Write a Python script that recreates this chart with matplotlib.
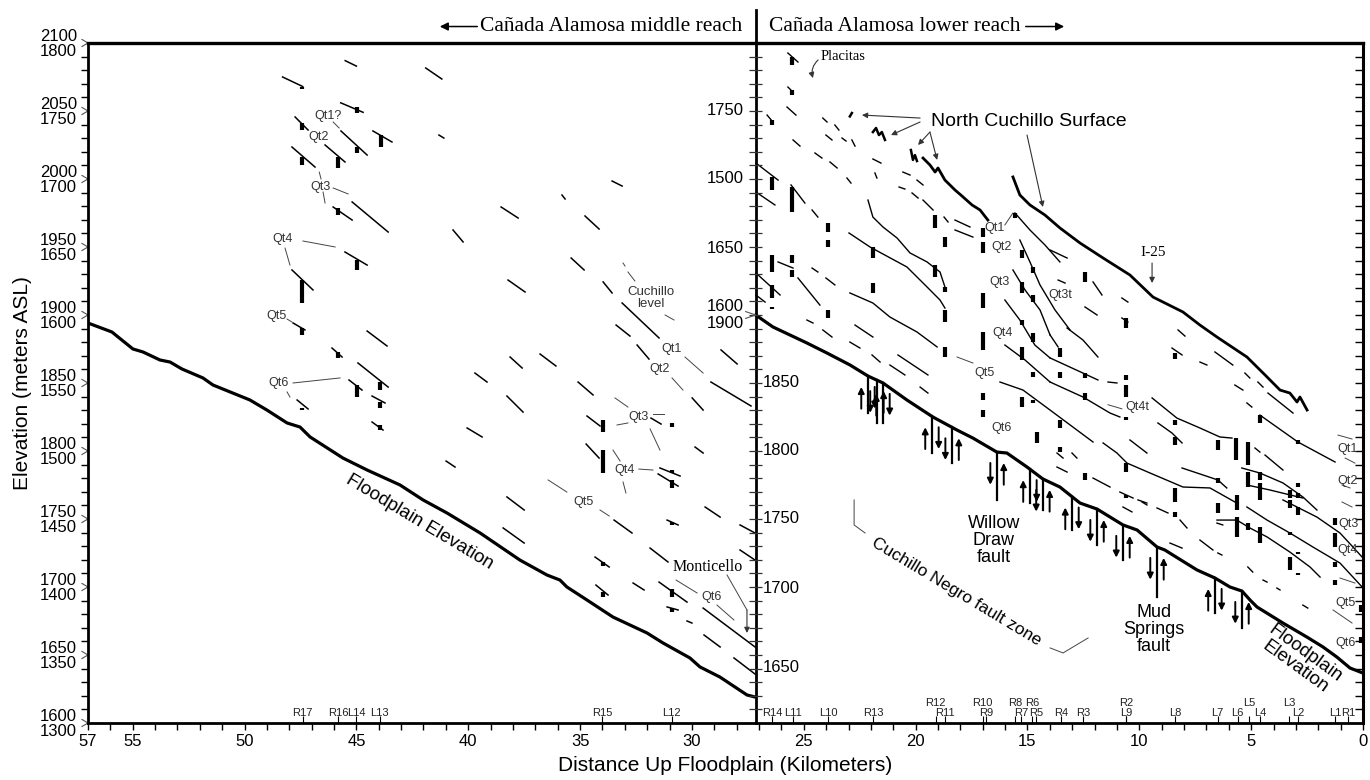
import numpy as np
import matplotlib.pyplot as plt
from matplotlib.transforms import blended_transform_factory

plt.rcParams['font.family'] = ['Liberation Sans', 'DejaVu Sans']
SERIF = ['Liberation Serif', 'DejaVu Serif']

DIVIDE_KM = 27.15

# floodplain profiles (km up floodplain, elevation on the plotted scale)
mid_floodplain_km = [57.0, 55.93, 54.99, 54.54, 53.78, 53.33, 52.80, 51.86, 51.41, 49.76, 49.0,
                     48.10, 47.52, 47.07, 45.60, 44.52, 43.05, 42.02, 40.95, 39.47, 37.69, 36.48,
                     35.90, 35.59, 34.69, 33.53, 32.01, 31.29, 30.09, 29.64, 28.75, 27.54, 27.18]
mid_floodplain_elev = [1894.1, 1887.5, 1875.0, 1872.8, 1866.9, 1865.4, 1860.3, 1853.7, 1848.5,
                       1837.5, 1830.1, 1820.6, 1817.6, 1810.3, 1794.8, 1786.0, 1775.0, 1764.0,
                       1754.4, 1739.7, 1719.8, 1708.8, 1705.1, 1700.0, 1690.4, 1677.9, 1666.2,
                       1658.8, 1647.8, 1641.2, 1633.8, 1620.6, 1619.1]

low_floodplain_km = [27.15, 26.38, 25.62, 24.86, 23.96, 22.93, 22.13, 21.46, 20.39, 19.23, 18.15,
                     17.44, 16.37, 15.92, 15.02, 14.31, 13.55, 12.65, 11.89, 10.73, 10.10, 9.21,
                     8.86, 8.50, 7.42, 6.62, 5.95, 5.41, 5.05, 4.74, 3.58, 2.51, 1.79, 1.17, 0.58, 0.0]
low_floodplain_elev = [1900.0, 1891.2, 1885.3, 1879.4, 1872.0, 1863.2, 1855.1, 1850.0, 1837.5,
                       1825.0, 1815.4, 1809.5, 1799.2, 1798.5, 1788.2, 1779.4, 1773.5, 1761.7,
                       1757.3, 1745.6, 1741.9, 1729.4, 1727.2, 1723.5, 1712.5, 1706.6, 1700.0,
                       1697.0, 1690.4, 1685.3, 1673.5, 1663.2, 1655.9, 1648.5, 1640.4, 1636.7]

# North Cuchillo surface and I-25 profiles
cuchillo_km = [19.67, 19.36, 19.13, 19.00, 18.69, 18.24, 17.93, 17.48, 17.12, 16.77]
cuchillo_elev = [2015.4, 2010.3, 2005.1, 2008.1, 1999.2, 1991.9, 1987.5, 1980.9, 1977.2, 1969.8]
cuchillo_bits = [
    [(22.85, 2048.5), (22.94, 2046.0)],
    [(21.91, 2034.5), (21.77, 2037.5), (21.64, 2032.3), (21.51, 2034.5), (21.37, 2028.7)],
    [(20.21, 2021.3), (20.12, 2014.0), (20.03, 2017.6), (19.94, 2013.2)],
]
i25_km = [15.65, 15.34, 14.89, 14.22, 13.55, 12.65, 11.62, 10.42, 9.39, 8.05, 7.29, 6.53,
          5.19, 4.38, 3.71, 3.27, 2.95, 2.82, 2.50]
i25_elev = [2001.5, 1988.2, 1980.9, 1973.5, 1964.0, 1952.9, 1941.9, 1929.4, 1913.2, 1902.2,
            1892.6, 1883.8, 1869.1, 1855.9, 1844.8, 1842.6, 1836.0, 1839.7, 1830.1]

# terrace tread segments, middle reach
mid_terraces = [
    [(48.3, 2075), (47.4, 2068)], [(45.5, 2087), (45.0, 2083)], [(45.7, 2056), (44.7, 2049)],
    [(47.74, 2045.6), (47.16, 2036.0)], [(45.69, 2035.3), (44.52, 2017.6)],
    [(44.26, 2035.3), (43.41, 2027.2)], [(46.40, 2025.0), (45.51, 2012.5)],
    [(47.88, 2023.5), (46.85, 2008.8)], [(46.04, 1979.4), (45.19, 1969.8)],
    [(45.19, 1983.1), (43.58, 1961.0)], [(45.51, 1946.3), (44.52, 1936.7)],
    [(47.88, 1933.1), (46.94, 1918.4)], [(47.83, 1894.1), (47.30, 1889.0)],
    [(44.52, 1888.2), (43.63, 1877.2)], [(46.09, 1875.7), (45.64, 1869.1)],
    [(44.93, 1864.7), (43.58, 1847.0)], [(45.33, 1852.2), (44.75, 1844.8)],
    [(44.30, 1840.4), (43.72, 1835.3)], [(47.65, 1837.5), (47.16, 1830.9)],
    [(44.30, 1821.3), (43.81, 1815.4)], [(41.90, 2081.6), (41.18, 2073.5)],
    [(41.31, 2032.3), (41.09, 2030.1)], [(33.57, 1998.5), (33.12, 1994.8)],
    [(35.81, 1988.2), (35.67, 1985.3)], [(38.53, 1979.4), (37.77, 1971.3)],
    [(34.78, 1972.8), (34.15, 1963.2)], [(40.68, 1962.5), (40.23, 1953.7)],
    [(35.40, 1941.9), (34.82, 1933.1)], [(38.22, 1925.7), (37.46, 1916.9)],
    [(33.97, 1924.3), (33.57, 1916.2)], [(33.12, 1908.8), (31.47, 1883.1)],
    [(33.39, 1892.6), (32.77, 1884.5)], [(38.13, 1869.1), (37.59, 1861.0)],
    [(36.79, 1871.3), (36.08, 1862.5)], [(32.45, 1877.9), (31.92, 1867.6)],
    [(28.70, 1874.3), (27.98, 1864.0)], [(29.15, 1850.7), (27.36, 1833.1)],
    [(39.70, 1857.3), (39.16, 1850.7)], [(35.09, 1850.7), (34.42, 1841.2)],
    [(38.27, 1840.4), (37.55, 1828.6)], [(29.99, 1839.0), (29.50, 1830.1)],
    [(34.69, 1825.7), (34.11, 1818.4)], [(31.83, 1824.2), (31.38, 1819.8)],
    [(40.05, 1816.9), (39.38, 1810.3)], [(29.86, 1802.9), (29.50, 1798.5)],
    [(34.73, 1805.1), (34.15, 1794.8)], [(31.43, 1787.5), (30.53, 1781.6)],
    [(31.51, 1783.1), (30.62, 1774.2)], [(40.99, 1792.6), (40.59, 1788.2)],
    [(38.27, 1766.2), (37.50, 1756.6)], [(33.48, 1749.2), (32.68, 1739.7)],
    [(29.41, 1758.8), (28.74, 1751.4)], [(31.11, 1749.2), (30.62, 1745.6)],
    [(27.85, 1745.6), (27.18, 1739.7)], [(38.44, 1743.4), (37.50, 1732.3)],
    [(31.87, 1728.6), (31.07, 1718.4)], [(27.85, 1727.2), (27.18, 1719.8)],
    [(34.33, 1722.0), (33.70, 1714.7)], [(32.63, 1702.9), (32.14, 1697.8)],
    [(31.47, 1703.6), (30.22, 1688.9)], [(34.29, 1701.4), (33.75, 1694.1)],
    [(31.11, 1685.3), (30.62, 1683.1)], [(30.22, 1675.0), (30.00, 1673.5)],
    [(29.50, 1684.5), (27.18, 1655.9)], [(29.46, 1664.7), (28.74, 1655.9)],
    [(28.12, 1647.8), (27.18, 1636.0)],
]

# terrace tread segments and profiles, lower reach
low_terraces = [
    [(27.14, 2011.7), (26.15, 1999.2)], [(27.14, 1990.4), (26.29, 1980.9)],
    [(25.57, 1995.6), (24.95, 1982.3)], [(25.71, 2092.6), (25.26, 2086.0)],
    [(25.71, 2067.6), (25.48, 2063.9)], [(25.75, 2052.9), (25.35, 2047.0)],
    [(26.64, 2047.0), (26.38, 2041.9)],
    [(24.15, 2044.8), (23.96, 2041.9)], [(23.61, 2039.7), (23.43, 2036.0)],
    [(25.48, 2028.7), (25.17, 2024.2)], [(24.01, 2032.3), (23.74, 2028.7)],
    [(23.29, 2030.1), (23.11, 2027.9)], [(22.85, 2028.7), (22.71, 2024.2)],
    [(24.50, 2019.1), (24.19, 2015.4)], [(23.83, 2012.5), (23.51, 2008.1)],
    [(21.91, 2014.7), (21.55, 2011.7)], [(20.57, 2005.1), (20.25, 2002.9)],
    [(19.94, 1999.2), (19.67, 1995.6)], [(21.82, 2004.4), (21.73, 2000.7)],
    [(23.07, 2000.7), (22.89, 1997.0)], [(20.74, 1994.1), (20.48, 1992.6)],
    [(20.16, 1989.7), (19.89, 1986.0)], [(19.67, 1984.5), (19.22, 1977.2)],
    [(24.63, 1977.2), (24.37, 1972.0)], [(18.73, 1972.0), (18.55, 1968.4)],
    [(18.24, 1969.8), (17.57, 1964.7)], [(18.24, 1962.5), (17.44, 1957.3)],
    [(24.63, 1934.5), (24.37, 1931.6)], [(24.01, 1927.2), (23.61, 1922.1)],
    [(24.86, 1896.3), (24.59, 1894.1)], [(24.15, 1889.0), (23.74, 1883.8)],
    [(22.13, 1984.5), (21.91, 1972.0), (21.46, 1964.7), (20.83, 1956.6), (20.25, 1945.6),
     (19.49, 1939.0), (18.91, 1931.6), (18.69, 1920.6)],
    [(22.98, 1960.3), (22.04, 1950.0), (20.39, 1935.3), (19.49, 1920.6), (18.91, 1911.0),
     (18.69, 1905.1)],
    [(22.94, 1916.2), (21.91, 1908.8), (21.15, 1898.5), (19.94, 1887.5), (19.04, 1876.5)],
    [(25.26, 1927.2), (24.28, 1907.3)], [(27.14, 1930.9), (26.06, 1914.7)],
    [(27.14, 1914.7), (26.73, 1909.5)], [(26.15, 1939.0), (25.48, 1934.5)],
    [(22.71, 1892.6), (21.91, 1883.8)], [(22.94, 1880.1), (22.49, 1875.7)],
    [(21.95, 1870.6), (21.59, 1865.4)], [(21.15, 1863.2), (20.48, 1855.9)],
    [(20.79, 1870.6), (19.45, 1855.9)], [(19.80, 1847.0), (19.45, 1842.6)],
    [(15.56, 1975.0), (14.89, 1962.5), (14.22, 1951.5), (13.55, 1939.0)],
    [(15.34, 1955.1), (14.89, 1939.0), (14.44, 1922.1), (13.77, 1903.7), (13.10, 1889.0)],
    [(15.65, 1933.1), (15.11, 1918.4), (14.44, 1903.7), (13.99, 1885.3)],
    [(16.01, 1911.0), (15.34, 1896.3), (14.67, 1877.9), (13.99, 1868.4)],
    [(16.01, 1877.9), (15.11, 1866.9), (13.99, 1850.7)],
    [(16.23, 1850.7), (15.20, 1844.8), (13.99, 1830.1), (12.07, 1806.6)],
    [(13.99, 1947.8), (13.23, 1941.9)], [(13.63, 1925.7), (13.32, 1923.5)],
    [(12.07, 1924.3), (11.67, 1914.7)], [(10.78, 1912.5), (10.51, 1909.5)],
    [(12.43, 1905.9), (11.89, 1900.0)], [(10.78, 1897.8), (10.51, 1894.8)],
    [(8.27, 1889.0), (7.96, 1884.5)], [(8.54, 1875.7), (8.09, 1870.6)],
    [(7.29, 1865.4), (6.98, 1863.2)], [(6.62, 1872.8), (5.82, 1863.2)],
    [(5.28, 1857.3), (5.06, 1853.7)], [(4.70, 1850.7), (4.47, 1847.0)],
    [(5.73, 1848.5), (5.37, 1844.8)], [(5.19, 1835.3), (4.97, 1832.3)],
    [(4.25, 1842.6), (3.13, 1827.9)],
    [(13.23, 1890.4), (12.52, 1881.6), (11.85, 1869.1)],
    [(13.99, 1885.3), (13.63, 1876.5)],
    [(13.99, 1868.4), (12.52, 1857.3), (11.85, 1852.2)], [(11.40, 1850.7), (11.00, 1850.0)],
    [(13.99, 1850.7), (12.52, 1839.7), (11.31, 1827.9), (10.87, 1825.0)],
    [(9.43, 1839.0), (8.32, 1824.2), (7.29, 1816.9), (6.40, 1810.3), (5.86, 1809.5)],
    [(9.17, 1820.6), (8.54, 1813.2), (8.09, 1805.9)],
    [(4.61, 1826.4), (2.91, 1806.6), (1.25, 1791.9)],
    [(4.83, 1802.2), (4.61, 1799.2)], [(4.38, 1797.0), (3.58, 1786.0)],
    [(11.62, 1805.9), (11.00, 1798.5), (10.55, 1791.1), (9.52, 1783.8), (8.05, 1773.5),
     (6.84, 1772.8), (5.64, 1761.7)],
    [(8.09, 1787.5), (6.49, 1778.7), (6.09, 1772.8)],
    [(5.42, 1787.5), (4.61, 1783.8), (3.58, 1776.5), (2.69, 1766.2), (2.06, 1756.6)],
    [(5.19, 1775.0), (4.16, 1771.3), (2.69, 1765.4)],
    [(13.68, 1798.5), (13.41, 1794.8)], [(13.01, 1798.5), (12.79, 1794.8)],
    [(13.68, 1788.2), (13.23, 1784.5)], [(12.07, 1780.1), (11.31, 1773.5)],
    [(10.87, 1769.8), (10.28, 1765.4)], [(9.88, 1762.5), (9.66, 1760.3)],
    [(10.42, 1808.1), (9.66, 1798.5)],
    [(6.53, 1749.2), (5.64, 1749.2), (5.06, 1743.4), (4.29, 1736.8), (3.27, 1725.7),
     (2.37, 1714.7), (1.92, 1707.3)],
    [(5.19, 1758.8), (4.29, 1749.2), (3.27, 1739.7), (2.24, 1729.4), (1.03, 1717.6),
     (0.04, 1700.0)],
    [(3.58, 1764.0), (2.06, 1751.4), (1.03, 1739.7), (0.45, 1729.4), (0.04, 1722.0)],
    [(10.73, 1758.8), (10.33, 1755.2)], [(10.06, 1764.0), (9.66, 1761.7)],
    [(9.21, 1758.1), (8.72, 1754.4)], [(8.18, 1749.2), (7.87, 1743.4)],
    [(8.63, 1732.3), (8.09, 1728.6)], [(7.29, 1734.5), (6.71, 1727.2)],
    [(6.49, 1725.0), (6.31, 1723.5)], [(5.15, 1714.7), (4.93, 1711.0)],
    [(4.47, 1705.1), (4.29, 1703.6)], [(3.85, 1699.2), (3.71, 1697.8)],
    [(2.69, 1686.7), (2.47, 1684.5)], [(6.53, 1747.0), (6.27, 1745.6)],
]

# deposit thickness bars: (km, top elevation, base elevation)
mid_bars = [
    (47.43, 2067.6, 2066.0), (44.97, 2052.9, 2048.5), (47.43, 2041.2, 2036.0),
    (44.97, 2023.5, 2019.1), (43.90, 2032.3, 2023.5), (45.82, 2016.2, 2008.1),
    (47.43, 2016.2, 2010.3), (45.82, 1978.7, 1973.5), (44.97, 1940.4, 1933.1),
    (47.43, 1925.7, 1908.8), (47.43, 1890.4, 1885.3), (45.82, 1872.8, 1868.4),
    (43.94, 1850.7, 1844.8), (44.97, 1848.5, 1839.7), (43.94, 1836.0, 1831.6),
    (47.43, 1831.6, 1830.0), (43.94, 1819.1, 1815.4), (33.97, 1822.8, 1814.0),
    (30.89, 1820.6, 1817.6), (33.97, 1800.7, 1783.8), (30.89, 1786.0, 1783.8),
    (30.89, 1778.7, 1772.8), (30.89, 1747.8, 1745.6), (33.97, 1718.4, 1715.4),
    (30.89, 1698.5, 1692.6), (33.97, 1696.3, 1692.6), (30.89, 1684.5, 1681.6),
]
low_bars = [
    (25.53, 2089.7, 2083.8), (25.53, 2065.4, 2061.7), (26.42, 2043.4, 2039.7),
    (26.42, 2001.5, 1991.9), (25.53, 1994.1, 1975.7), (19.13, 1973.5, 1964.0),
    (18.69, 1957.3, 1950.0), (16.99, 1964.0, 1957.3), (16.99, 1953.7, 1945.6),
    (15.56, 1975.0, 1971.3), (23.92, 1967.6, 1961.0), (23.92, 1955.1, 1950.0),
    (21.91, 1950.0, 1941.9), (26.42, 1944.1, 1931.6), (25.53, 1944.1, 1938.2),
    (25.53, 1933.1, 1927.9), (26.42, 1922.1, 1912.5), (26.42, 1905.9, 1904.4),
    (23.92, 1903.7, 1897.8), (21.91, 1923.5, 1916.2), (18.69, 1920.6, 1916.9),
    (19.13, 1936.7, 1927.9), (18.69, 1903.7, 1894.8), (18.69, 1876.5, 1869.1),
    (16.99, 1916.2, 1905.1), (16.99, 1887.5, 1874.3), (16.99, 1842.6, 1837.5),
    (16.99, 1830.1, 1825.0), (15.25, 1947.8, 1941.9), (15.25, 1924.3, 1916.2),
    (15.25, 1896.3, 1892.6), (15.25, 1876.5, 1866.9), (15.25, 1839.7, 1832.3),
    (14.75, 1935.3, 1930.9), (14.75, 1914.7, 1909.5), (14.75, 1886.7, 1880.1),
    (14.75, 1858.1, 1854.4), (14.75, 1837.5, 1835.3), (14.57, 1814.0, 1805.9),
    (12.43, 1931.6, 1924.3), (10.60, 1897.8, 1890.4), (8.41, 1872.0, 1867.6),
    (13.55, 1875.7, 1869.1), (12.43, 1857.3, 1853.7), (13.55, 1858.1, 1853.7),
    (10.60, 1855.9, 1852.2), (10.60, 1848.5, 1839.7), (12.43, 1842.6, 1837.5),
    (13.55, 1822.8, 1816.9), (10.60, 1825.0, 1822.8), (8.41, 1822.8, 1819.1),
    (8.41, 1810.3, 1804.4), (6.49, 1808.1, 1800.7), (5.68, 1809.5, 1793.4),
    (5.15, 1806.6, 1789.7), (4.61, 1826.4, 1820.6), (2.91, 1808.1, 1805.1),
    (10.60, 1791.1, 1784.5), (8.41, 1772.8, 1762.5), (6.49, 1780.1, 1776.5),
    (5.64, 1767.6, 1756.6), (5.15, 1784.5, 1773.5), (4.61, 1784.5, 1778.7),
    (4.61, 1776.5, 1764.0), (3.27, 1771.3, 1765.4), (2.91, 1776.5, 1773.5),
    (2.91, 1769.1, 1765.4), (13.55, 1802.9, 1799.2), (12.43, 1783.8, 1778.7),
    (10.60, 1767.6, 1765.4), (8.41, 1755.2, 1751.4), (6.49, 1761.7, 1754.4),
    (5.64, 1751.4, 1736.8), (5.15, 1747.0, 1741.9), (4.61, 1744.1, 1732.3),
    (3.27, 1722.0, 1712.5), (2.91, 1710.3, 1708.8), (3.27, 1764.0, 1758.1),
    (2.91, 1758.8, 1752.9), (1.25, 1750.7, 1745.6), (1.25, 1739.7, 1729.4),
    (3.27, 1740.4, 1738.2), (2.91, 1725.7, 1724.5), (1.25, 1718.4, 1714.7),
    (1.25, 1705.1, 1701.4), (0.08, 1686.7, 1681.6), (0.08, 1663.2, 1658.8),
]

# label leader lines
leaders = [
    [(46.04, 2041.9), (45.77, 2037.5)], [(46.66, 2005.1), (46.58, 2000.0)],
    [(46.49, 1990.4), (46.40, 1982.3)], [(46.04, 1993.4), (45.37, 1989.0)],
    [(47.39, 1954.4), (45.95, 1950.0)], [(48.19, 1949.2), (47.97, 1936.7)],
    [(48.10, 1897.0), (47.88, 1894.8)], [(47.83, 1850.0), (45.73, 1853.7)],
    [(48.10, 1843.4), (47.97, 1839.7)], [(33.08, 1938.2), (32.99, 1936.0)],
    [(32.86, 1931.6), (32.55, 1925.0)], [(31.20, 1900.0), (30.80, 1896.3)],
    [(30.31, 1869.1), (29.50, 1857.3)], [(30.89, 1853.7), (30.40, 1844.8)],
    [(33.44, 1839.0), (32.86, 1832.3)], [(31.74, 1827.2), (31.25, 1827.2)],
    [(33.35, 1819.1), (32.86, 1820.6)], [(31.87, 1816.2), (31.43, 1800.7)],
    [(33.53, 1800.7), (33.21, 1792.6)], [(32.37, 1786.7), (31.74, 1786.0)],
    [(33.08, 1777.2), (32.95, 1769.1)], [(36.43, 1778.7), (35.59, 1769.8)],
    [(34.11, 1756.6), (33.70, 1752.2)], [(30.71, 1705.1), (29.77, 1695.6)],
    [(28.88, 1686.7), (28.12, 1675.7)],
    [(16.01, 1966.2), (15.65, 1975.0)], [(18.15, 1869.1), (17.44, 1864.7)],
    [(11.40, 1834.0), (10.78, 1831.0)],
    [(1.12, 1811.7), (0.49, 1808.8)], [(0.80, 1794.8), (0.36, 1791.1)],
    [(0.94, 1775.0), (0.58, 1772.8)], [(0.94, 1762.5), (0.49, 1758.8)],
    [(1.03, 1706.6), (0.36, 1702.9)], [(1.34, 1683.1), (0.49, 1673.5)],
    [(22.75, 1764.0), (22.75, 1745.6), (22.26, 1739.7)],
    [(13.99, 1655.2), (13.41, 1651.5), (12.29, 1662.5)],
]

# terrace labels: (text, km, elevation)
terrace_labels = [
    ('Qt1?', 46.27, 2046.3), ('Qt2', 46.71, 2030.9), ('Qt3', 46.62, 1994.1),
    ('Qt4', 48.28, 1955.9), ('Qt5', 48.59, 1899.2), ('Qt6', 48.46, 1850.0),
    ('Qt1', 30.89, 1875.0), ('Qt2', 31.43, 1860.3), ('Qt3', 32.41, 1825.0),
    ('Qt4', 33.03, 1786.0), ('Qt5', 34.86, 1762.5), ('Qt6', 29.10, 1692.6),
    ('Qt1', 16.45, 1964.0), ('Qt2', 16.14, 1950.0), ('Qt3', 16.23, 1924.3),
    ('Qt3t', 13.55, 1914.7), ('Qt4', 16.10, 1886.7), ('Qt5', 16.90, 1857.3),
    ('Qt6', 16.14, 1816.9), ('Qt4t', 10.10, 1832.3),
    ('Qt1', 0.67, 1801.5), ('Qt2', 0.67, 1777.9), ('Qt3', 0.67, 1746.3),
    ('Qt4', 0.67, 1727.2), ('Qt5', 0.80, 1688.2), ('Qt6', 0.80, 1658.8),
]

# measured sections along the floodplain (row 1 = raised label)
site_names = ['R17', 'R16', 'L14', 'L13', 'R15', 'L12', 'R14', 'L11', 'L10', 'R13', 'R12',
              'R11', 'R10', 'R9', 'R8', 'R7', 'R6', 'R5', 'R4', 'R3', 'R2', 'L9', 'L8', 'L7',
              'L6', 'L5', 'L4', 'L3', 'L2', 'L1', 'R1']
site_km = [47.4, 45.8, 45.0, 43.95, 34.0, 30.9, 26.4, 25.5, 23.9, 21.9, 19.1, 18.7, 17.0,
           16.85, 15.56, 15.3, 14.8, 14.6, 13.5, 12.5, 10.6, 10.6, 8.4, 6.5, 5.6, 5.1, 4.6,
           3.3, 2.9, 1.25, 0.67]
site_row = [0, 0, 0, 0, 0, 0, 0, 0, 0, 0, 1, 0, 1, 0, 1, 0, 1, 0, 0, 0, 1, 0, 0, 0, 0, 1, 0,
            1, 0, 0, 0]

# faults crossing the floodplain: position, base of the drawn trace, sense of slip
fault_km = [22.13, 21.73, 21.46, 19.27, 18.37, 16.36, 14.89, 14.31, 13.01, 11.89, 10.73,
            9.21, 6.62, 5.41]
fault_base = [1827.9, 1820.6, 1820.6, 1798.5, 1791.1, 1764.0, 1761.7, 1756.6, 1741.9,
              1730.9, 1719.8, 1692.6, 1680.9, 1669.8]
fault_sense = ['ud', 'du', 'ud', 'ud', 'du', 'du', 'ud', 'du', 'ud', 'du', 'du', 'du',
               'ud', 'du']

# axis labelling
left_upper = [str(v) for v in range(1600, 2101, 50)]
left_lower = [str(v) for v in range(1300, 1801, 50)]
# divider scale: upper labels sit left of the divider, lower ones to its right
divider_labels_left = [('1750', 2050.7), ('1500', 2000.7), ('1650', 1949.2),
                       ('1600', 1905.9), ('1900', 1894.1)]
divider_labels_right = [('1850', 1850.0), ('1800', 1800.7), ('1750', 1750.7),
                        ('1700', 1699.2), ('1650', 1641.1)]
x_major = [57, 55, 50, 45, 40, 35, 30, 25, 20, 15, 10, 5, 0]

fig = plt.figure(figsize=(13.7, 7.8), dpi=100)
ax = fig.add_axes([0.0642, 0.0731, 0.9307, 0.8718])
ax.set_xlim(57, 0)
ax.set_ylim(1600, 2100)
blend = blended_transform_factory(ax.transAxes, ax.transData)


def draw_lines(lines, **kw):
    for pts in lines:
        xs, ys = zip(*pts)
        ax.plot(xs, ys, **kw)


# floodplains and surfaces
ax.plot(mid_floodplain_km, mid_floodplain_elev, color='k', lw=2.3, solid_capstyle='round')
ax.plot(low_floodplain_km, low_floodplain_elev, color='k', lw=2.3, solid_capstyle='round')
ax.plot(cuchillo_km, cuchillo_elev, color='k', lw=2.0)
draw_lines(cuchillo_bits, color='k', lw=1.8)
ax.plot(i25_km, i25_elev, color='k', lw=2.0)

draw_lines(mid_terraces, color='k', lw=1.1)
draw_lines(low_terraces, color='k', lw=1.0)
draw_lines(leaders, color='#444444', lw=0.7)

for bars in (mid_bars, low_bars):
    ax.vlines([b[0] for b in bars], [b[2] for b in bars], [b[1] for b in bars],
              color='k', lw=3.0)

# faults with slip arrows
fp_top = np.interp(fault_km, low_floodplain_km[::-1], low_floodplain_elev[::-1])
for km, top, base, sense in zip(fault_km, fp_top, fault_base, fault_sense):
    ax.plot([km, km], [top, base], color='k', lw=1.6)
    for side, d in zip((1, -1), sense):
        xa = km + side * 0.3
        lo, hi = top - 24, top - 8
        start, end = (lo, hi) if d == 'u' else (hi, lo)
        ax.annotate('', xy=(xa, end), xytext=(xa, start),
                    arrowprops=dict(arrowstyle='-|>', color='k', lw=1.4,
                                    mutation_scale=9, shrinkA=0, shrinkB=0))

# divider between the two reaches, with its own elevation ticks
ax.plot([DIVIDE_KM, DIVIDE_KM], [1600, 2124], color='k', lw=2.0, clip_on=False)
div_ticks = np.arange(1610, 2100, 10)
ax.hlines(div_ticks, DIVIDE_KM + 0.28, DIVIDE_KM - 0.28, color='#333333', lw=0.9)
for txt, el in divider_labels_left:
    ax.text(DIVIDE_KM + 0.55, el, txt, ha='right', va='center', fontsize=12)
for txt, el in divider_labels_right:
    ax.text(DIVIDE_KM - 0.33, el, txt, ha='left', va='center', fontsize=12)
ax.plot([DIVIDE_KM + 0.45, DIVIDE_KM, DIVIDE_KM + 0.45], [1902.5, 1900, 1897.5],
        color='#555555', lw=0.8)

# measured-section markers along the base
ax.vlines(site_km, 1600, 1605, color='k', lw=0.8)
for name, km, row in zip(site_names, site_km, site_row):
    ax.text(km, 1607.5 + 7.3 * row, name, ha='center', va='center', fontsize=8,
            color='#222222')

for txt, km, el in terrace_labels:
    ax.text(km, el, txt, ha='center', va='center', fontsize=9, color='#333333')

# annotations
ax.text(31.83, 1912.5, 'Cuchillo\nlevel', ha='center', va='center', fontsize=9.5,
        color='#333333', linespacing=1.1)
ax.text(42.17, 1747.8, 'Floodplain Elevation', rotation=-31, ha='center', va='center',
        fontsize=13.5, rotation_mode='anchor')
ax.text(2.82, 1646.3, 'Floodplain\nElevation', rotation=-36, ha='center', va='center',
        fontsize=13.5, rotation_mode='anchor', linespacing=1.0)
ax.text(18.19, 1696.3, 'Cuchillo Negro fault zone', rotation=-31, ha='center', va='center',
        fontsize=12.5, rotation_mode='anchor')
ax.text(16.50, 1734.5, 'Willow\nDraw\nfault', ha='center', va='center', fontsize=13,
        linespacing=1.0)
ax.text(9.34, 1668.4, 'Mud\nSprings\nfault', ha='center', va='center', fontsize=13,
        linespacing=1.0)
ax.text(14.93, 2041.9, 'North Cuchillo Surface', ha='center', va='center', fontsize=14)

arrow_kw = dict(arrowstyle='-|>', color='#333333', lw=0.8, mutation_scale=8,
                shrinkA=0, shrinkB=0)
for start, end in [((19.80, 2044.8), (22.40, 2047.0)), ((19.80, 2041.9), (21.10, 2032.3)),
                   ((19.36, 2034.5), (19.89, 2025.0)), ((19.36, 2034.5), (19.04, 2014.0)),
                   ((15.02, 2032.3), (14.31, 1979.4))]:
    ax.annotate('', xy=end, xytext=start, arrowprops=arrow_kw)

ax.text(23.25, 2089.7, 'Placitas', ha='center', va='center', fontsize=10.5, family=SERIF)
ax.annotate('', xy=(24.59, 2074.2), xytext=(24.36, 2087.5),
            arrowprops=dict(arrow_kw, connectionstyle='arc3,rad=0.3'))
ax.text(9.39, 1945.6, 'I-25', ha='center', va='center', fontsize=11, family=SERIF)
ax.annotate('', xy=(9.43, 1923.5), xytext=(9.43, 1938.2), arrowprops=arrow_kw)
ax.text(29.28, 1714.7, 'Monticello', ha='center', va='center', fontsize=11.5, family=SERIF)
ax.plot([28.43, 27.54], [1708.8, 1683.1], color='#444444', lw=0.7)
ax.annotate('', xy=(27.54, 1666.2), xytext=(27.54, 1683.1), arrowprops=arrow_kw)

# axes styling
for side in ('left', 'bottom', 'top', 'right'):
    ax.spines[side].set_linewidth(2.0)
ax.spines['top'].set_linewidth(2.4)

ax.set_xticks(x_major)
ax.set_xticklabels([str(v) for v in x_major], fontsize=12)
ax.set_xticks(np.arange(0, 58, 1), minor=True)
ax.tick_params(axis='x', which='both', direction='out', length=5, width=1.0, pad=3)

ax.set_yticks(np.arange(1600, 2101, 50))
ax.set_yticklabels([f'{u}\n{l}' for u, l in zip(left_upper, left_lower)], fontsize=12,
                   linespacing=0.92)
ax.set_yticks(np.arange(1600, 2101, 10), minor=True)
ax.tick_params(axis='y', which='major', length=0, pad=8)
ax.tick_params(axis='y', which='minor', direction='out', length=5, width=1.0)
for el in range(1600, 2101, 50):
    ax.plot([-0.0047, 0, -0.0047], [el + 2.6, el, el - 2.6], transform=blend,
            clip_on=False, color='#555555', lw=0.8)

sec = ax.secondary_yaxis('right')
sec.set_yticks(np.arange(1610, 2100, 10))
sec.tick_params(direction='in', length=6, width=1.0, labelright=False)
sec.spines['right'].set_linewidth(2.2)

ax.set_ylabel('Elevation (meters ASL)', fontsize=15)
ax.yaxis.set_label_coords(-0.044, 0.5)
ax.set_xlabel('Distance Up Floodplain (Kilometers)', fontsize=15)
ax.xaxis.set_label_coords(0.5, -0.048)

# reach headers
fig.text(0.5416, 0.966, 'Cañada Alamosa middle reach', ha='right', va='center',
         fontsize=15.5, family=SERIF)
fig.text(0.5613, 0.966, 'Cañada Alamosa lower reach', ha='left', va='center',
         fontsize=15.5, family=SERIF)
head_kw = dict(arrowstyle='-|>', color='k', lw=1.1, mutation_scale=12)
ax.annotate('', xy=(0.319, 0.966), xytext=(0.3504, 0.966), xycoords='figure fraction',
            arrowprops=head_kw)
ax.annotate('', xy=(0.7788, 0.966), xytext=(0.7467, 0.966), xycoords='figure fraction',
            arrowprops=head_kw)

fig.savefig('out.png', dpi=100)
